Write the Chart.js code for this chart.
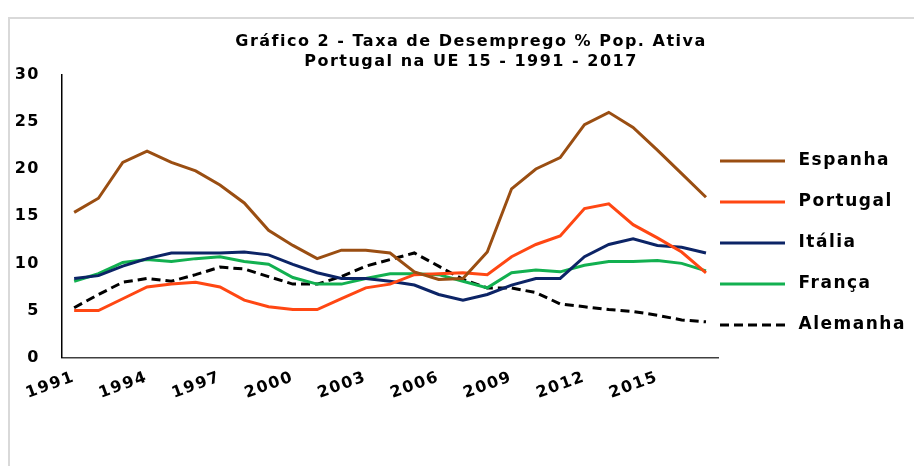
<!DOCTYPE html>
<html>
<head>
<meta charset="utf-8">
<script src="https://cdn.jsdelivr.net/npm/chart.js@4.4.1/dist/chart.umd.min.js"></script>
<style>
    html, body { margin: 0; background: #fff; overflow: hidden; }
    #wrap { position: relative; width: 914px; height: 466px; overflow: hidden; }
    #frame { position: absolute; left: 8px; top: 17px; width: 920px; height: 470px; border-left: 2px solid #d9d9d9; border-top: 2px solid #d9d9d9; }
    canvas { position: absolute; left: 0; top: 0; }
</style>
</head>
<body>
<div id="wrap">
    <div id="frame"></div>
    <canvas id="myChart" width="914" height="466"></canvas>
</div>
<script>
const years = ['1991', '1992', '1993', '1994', '1995', '1996', '1997', '1998', '1999', '2000',
    '2001', '2002', '2003', '2004', '2005', '2006', '2007', '2008', '2009', '2010',
    '2011', '2012', '2013', '2014', '2015', '2016', '2017'];

const espanha = [15.4, 16.9, 20.7, 21.9, 20.7, 19.8, 18.3, 16.4, 13.5, 11.9, 10.5, 11.4, 11.4, 11.1,
    9.1, 8.3, 8.4, 11.2, 17.9, 20.0, 21.2, 24.7, 26.0, 24.4, 22.0, 19.5, 17.0];
const portugal = [5.0, 5.0, 6.25, 7.5, 7.8, 8.0, 7.5, 6.1, 5.4, 5.1, 5.1, 6.25, 7.4, 7.8,
    8.8, 8.9, 9.0, 8.8, 10.7, 12.0, 12.9, 15.8, 16.3, 14.1, 12.7, 11.2, 9.0];
const italia = [8.4, 8.7, 9.7, 10.5, 11.1, 11.1, 11.1, 11.2, 10.9, 9.9, 9.0, 8.4, 8.4, 8.1,
    7.7, 6.7, 6.1, 6.7, 7.7, 8.4, 8.4, 10.7, 12.0, 12.6, 11.9, 11.7, 11.1];
const franca = [8.1, 8.9, 10.1, 10.4, 10.2, 10.5, 10.7, 10.2, 9.9, 8.5, 7.8, 7.8, 8.4, 8.9,
    8.9, 8.8, 8.1, 7.4, 9.0, 9.3, 9.1, 9.8, 10.2, 10.2, 10.3, 10.0, 9.2];
const alemanha = [5.3, 6.7, 8.0, 8.4, 8.1, 8.8, 9.6, 9.4, 8.6, 7.8, 7.8, 8.6, 9.7, 10.4,
    11.1, 9.7, 8.3, 7.4, 7.4, 6.9, 5.7, 5.4, 5.1, 4.9, 4.5, 4.0, 3.8];

const yTicks = [0, 5, 10, 15, 20, 25, 30];

const font = 'DejaVu Sans';

function serie(label, data, color, dash) {
    return {
        label: label,
        data: data,
        borderColor: color,
        backgroundColor: color,
        borderWidth: 3,
        borderDash: dash || [],
        pointRadius: 0,
        tension: 0,
        fill: false
    };
}

// amostra da legenda: linha de 65px
function amostra(color, dash) {
    const c = document.createElement('canvas');
    c.width = 70;
    c.height = 6;
    const g = c.getContext('2d');
    g.strokeStyle = color;
    g.lineWidth = 3;
    g.setLineDash(dash);
    g.beginPath();
    g.moveTo(0, 3);
    g.lineTo(65, 3);
    g.stroke();
    return c;
}

// texto mais largo, como no original
const espacamento = {
    id: 'espacamento',
    beforeInit(chart) { chart.ctx.letterSpacing = '1.5px'; },
    beforeDraw(chart) { chart.ctx.letterSpacing = '1.5px'; },
    afterLayout(chart) {
        const lg = chart.legend;
        const dx = 696 - lg.left;
        lg.left += dx;
        lg.right += dx;
        lg.top += 22;
        lg.bottom += 22;
    }
};

let myChart;

document.addEventListener('DOMContentLoaded', function () {
    const ctx = document.getElementById('myChart');
    myChart = new Chart(ctx, {
        type: 'line',
        data: {
            labels: years,
            datasets: [
                serie('Espanha', espanha, '#9a4e12'),
                serie('Portugal', portugal, '#ff4713'),
                serie('Itália', italia, '#0c2466'),
                serie('França', franca, '#12b050'),
                serie('Alemanha', alemanha, '#000000', [9, 5])
            ]
        },
        plugins: [espacamento],
        options: {
            responsive: false,
            animation: false,
            layout: {
                padding: { left: 16, right: -12, top: 31, bottom: 55 }
            },
            plugins: {
                title: {
                    display: true,
                    text: ['Gráfico 2 - Taxa de Desemprego % Pop. Ativa', 'Portugal na UE 15 - 1991 - 2017'],
                    color: '#000',
                    font: { family: font, size: 16, weight: 'bold', lineHeight: 1.3 },
                    padding: { top: 0, bottom: 2 }
                },
                legend: {
                    position: 'right',
                    labels: {
                        usePointStyle: true,
                        pointStyleWidth: 70,
                        color: '#000',
                        padding: 24,
                        font: { family: font, size: 17, weight: 'bold' },
                        generateLabels: function (chart) {
                            return chart.data.datasets.map(function (ds, i) {
                                return {
                                    text: ds.label,
                                    datasetIndex: i,
                                    fontColor: '#000',
                                    pointStyle: amostra(ds.borderColor, ds.borderDash),
                                    lineWidth: 0,
                                    hidden: false
                                };
                            });
                        }
                    }
                },
                tooltip: { enabled: false }
            },
            scales: {
                x: {
                    offset: true,
                    grid: { display: false, drawTicks: false },
                    border: { display: true, color: '#404040', width: 1.5 },
                    afterFit: function (axis) {
                        axis.paddingLeft = 0;
                        axis.paddingRight = 0;
                    },
                    ticks: {
                        autoSkip: false,
                        minRotation: 20,
                        maxRotation: 20,
                        padding: 10,
                        color: '#000',
                        font: { family: font, size: 16, weight: 'bold' },
                        callback: function (value, index) {
                            return index % 3 === 0 ? this.getLabelForValue(value) : '';
                        }
                    }
                },
                y: {
                    min: 0,
                    max: 30,
                    afterBuildTicks: function (axis) {
                        axis.ticks = yTicks.map(function (v) { return { value: v }; });
                    },
                    afterFit: function (axis) {
                        axis.width = 46;
                    },
                    grid: { display: false, drawTicks: false },
                    border: { display: true, color: '#000', width: 1.5 },
                    ticks: {
                        padding: 22,
                        color: '#000',
                        font: { family: font, size: 16, weight: 'bold' }
                    }
                }
            }
        }
    });
});
</script>
</body>
</html>
